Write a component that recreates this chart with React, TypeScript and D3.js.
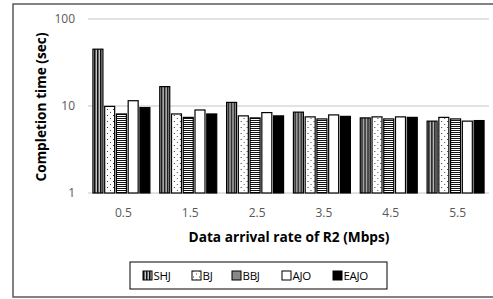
import { useEffect, useRef } from "react";
import * as d3 from "d3";

const categories = ["0.5", "1.5", "2.5", "3.5", "4.5", "5.5"];
const seriesNames = ["SHJ", "BJ", "BBJ", "AJO", "EAJO"];
const shjValues = [45, 16.7, 11, 8.5, 7.3, 6.7];
const bjValues = [9.9, 8.1, 7.7, 7.5, 7.5, 7.4];
const bbjValues = [8.1, 7.4, 7.3, 7.1, 7.1, 7.1];
const ajoValues = [11.5, 9.0, 8.4, 7.9, 7.5, 6.7];
const eajoValues = [9.6, 8.1, 7.7, 7.6, 7.4, 6.8];
const yTicks = [1, 10, 100];

const allSeries = [shjValues, bjValues, bbjValues, ajoValues, eajoValues];
const fills = ["url(#pShj)", "url(#pBj)", "url(#pBbj)", "#ffffff", "#000000"];

const font = "'Open Sans', 'Liberation Sans', sans-serif";

const CompletionChart = () => {
  const svgRef = useRef<SVGSVGElement>(null);

  useEffect(() => {
    if (!svgRef.current) return;
    document.body.style.margin = "0";
    const svg = d3.select(svgRef.current);
    svg.selectAll("*").remove();

    const W = 493;
    const H = 299;
    svg.attr("width", W).attr("height", H).style("display", "block");

    // patterns
    const defs = svg.append("defs");
    const pShj = defs
      .append("pattern")
      .attr("id", "pShj")
      .attr("patternUnits", "userSpaceOnUse")
      .attr("width", 3)
      .attr("height", 4);
    pShj.append("rect").attr("width", 3).attr("height", 4).attr("fill", "#666");
    pShj.append("rect").attr("width", 1).attr("height", 4).attr("fill", "#111");
    pShj.append("rect").attr("x", 2).attr("width", 0.8).attr("height", 4).attr("fill", "#ddd");

    const pBj = defs
      .append("pattern")
      .attr("id", "pBj")
      .attr("patternUnits", "userSpaceOnUse")
      .attr("width", 6)
      .attr("height", 6);
    pBj.append("rect").attr("width", 6).attr("height", 6).attr("fill", "#fff");
    pBj.append("rect").attr("x", 1).attr("y", 1).attr("width", 1).attr("height", 1).attr("fill", "#333");
    pBj.append("rect").attr("x", 4).attr("y", 4).attr("width", 1).attr("height", 1).attr("fill", "#555");

    const pBbj = defs
      .append("pattern")
      .attr("id", "pBbj")
      .attr("patternUnits", "userSpaceOnUse")
      .attr("width", 4)
      .attr("height", 2);
    pBbj.append("rect").attr("width", 4).attr("height", 2).attr("fill", "#fff");
    pBbj.append("rect").attr("width", 4).attr("height", 1).attr("fill", "#111");

    // outer frame
    svg
      .append("rect")
      .attr("x", 13)
      .attr("y", 4)
      .attr("width", 490)
      .attr("height", 293)
      .attr("fill", "#fff")
      .attr("stroke", "#595959")
      .attr("stroke-width", 1.5);

    const x0 = d3.scaleBand().domain(categories).range([88, 489]).padding(0);
    const x1 = d3
      .scaleBand()
      .domain(seriesNames)
      .range([0, x0.bandwidth()])
      .paddingInner(0.15)
      .paddingOuter(0.42);
    const y = d3.scaleLog().domain([1, 100]).range([193, 19]);

    // grid
    svg
      .append("g")
      .selectAll("line")
      .data(yTicks)
      .join("line")
      .attr("x1", 88)
      .attr("x2", 489)
      .attr("y1", (d) => y(d))
      .attr("y2", (d) => y(d))
      .attr("stroke", "#d9d9d9")
      .attr("stroke-width", 1.5);

    // y tick labels
    svg
      .append("g")
      .selectAll("text")
      .data(yTicks)
      .join("text")
      .attr("x", 75)
      .attr("y", (d) => y(d))
      .attr("dy", "0.35em")
      .attr("text-anchor", "end")
      .attr("font-family", font)
      .attr("font-size", 12)
      .attr("fill", "#595959")
      .text((d) => String(d));

    // bars
    const groups = svg
      .append("g")
      .selectAll("g")
      .data(categories)
      .join("g")
      .attr("transform", (c) => `translate(${x0(c)},0)`);
    groups
      .selectAll("rect")
      .data((c) => seriesNames.map((s, k) => ({ s, k, v: allSeries[k][categories.indexOf(c)] })))
      .join("rect")
      .attr("x", (d) => x1(d.s) as number)
      .attr("y", (d) => y(d.v))
      .attr("width", x1.bandwidth())
      .attr("height", (d) => y(1) - y(d.v))
      .attr("fill", (d) => fills[d.k])
      .attr("stroke", "#000")
      .attr("stroke-width", 1.2);

    // x tick labels
    svg
      .append("g")
      .selectAll("text")
      .data(categories)
      .join("text")
      .attr("x", (c) => (x0(c) as number) + x0.bandwidth() / 2 + 2)
      .attr("y", 217)
      .attr("text-anchor", "middle")
      .attr("font-family", font)
      .attr("font-size", 12)
      .attr("fill", "#595959")
      .text((c) => c);

    // axis titles
    svg
      .append("text")
      .attr("x", 289)
      .attr("y", 242)
      .attr("text-anchor", "middle")
      .attr("font-family", font)
      .attr("font-weight", "bold")
      .attr("font-size", 13.7)
      .attr("fill", "#000")
      .text("Data arrival rate of R2 (Mbps)");
    svg
      .append("text")
      .attr("transform", "translate(46,107) rotate(-90)")
      .attr("text-anchor", "middle")
      .attr("font-family", font)
      .attr("font-weight", "bold")
      .attr("font-size", 13.7)
      .attr("fill", "#000")
      .text("Completion time (sec)");

    // legend
    svg
      .append("rect")
      .attr("x", 130)
      .attr("y", 262)
      .attr("width", 257)
      .attr("height", 27)
      .attr("fill", "#fff")
      .attr("stroke", "#000")
      .attr("stroke-width", 1);
    const legendStarts = [143, 192, 232, 282, 333];
    const legend = svg.append("g").attr("transform", "translate(0,275.5)");
    seriesNames.forEach((s, k) => {
      const g = legend.append("g").attr("transform", `translate(${legendStarts[k]},0)`);
      g.append("rect")
        .attr("x", 0)
        .attr("y", -4.5)
        .attr("width", 9)
        .attr("height", 9)
        .attr("fill", fills[k])
        .attr("stroke", "#000")
        .attr("stroke-width", 1);
      g.append("text")
        .attr("x", 10.5)
        .attr("dy", "0.36em")
        .attr("font-family", font)
        .attr("font-size", 11.5)
        .attr("letter-spacing", -0.3)
        .attr("fill", "#000")
        .text(s);
    });
  }, []);

  return <svg ref={svgRef}></svg>;
};

export default function App() {
  return <CompletionChart />;
}
